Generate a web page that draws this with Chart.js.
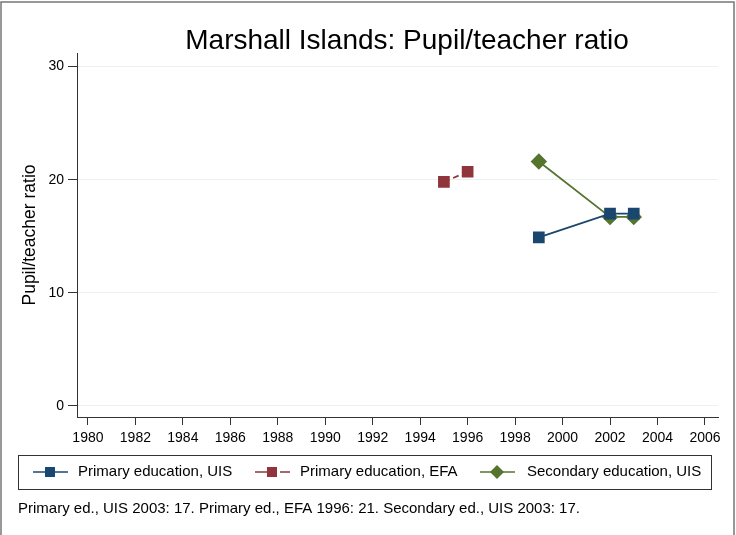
<!DOCTYPE html>
<html>
<head>
<meta charset="utf-8">
<script src="https://cdn.jsdelivr.net/npm/chart.js@4"></script>
<style>
  html, body { margin: 0; padding: 0; background: #fff; }
  #wrap { width: 736px; height: 535px; position: relative; }
</style>
</head>
<body>
<div id="wrap"><canvas id="grafico" width="736" height="535"></canvas></div>
<script>
// Datos
const years = [1980, 1982, 1984, 1986, 1988, 1990, 1992, 1994, 1996, 1998, 2000, 2002, 2004, 2006];
const yTicks = [0, 10, 20, 30];

const primUisYears = [1999, 2002, 2003];
const primUisVals = [14.9, 17.0, 17.0];

const primEfaYears = [1995, 1996];
const primEfaVals = [19.8, 20.7];

const secUisYears = [1999, 2002, 2003];
const secUisVals = [21.6, 16.7, 16.7];

const titulo = 'Marshall Islands: Pupil/teacher ratio';
const labels = ['Primary education, UIS', 'Primary education, EFA', 'Secondary education, UIS'];
const colores = ['#1a476f', '#90353b', '#55752f'];
const nota = 'Primary ed., UIS 2003: 17. Primary ed., EFA 1996: 21. Secondary ed., UIS 2003: 17.';

const toPoints = (xs, ys) => xs.map((x, i) => ({ x: x, y: ys[i] }));
const FONT = 'Liberation Sans, Arial, sans-serif';

// Marco, título, leyenda y nota
const extras = {
    id: 'extras',
    afterDraw(chart) {
        const c = chart.ctx;
        c.save();
        c.strokeStyle = '#777';
        c.lineWidth = 1.5;
        c.beginPath();
        c.moveTo(1, 540); c.lineTo(1, 2); c.lineTo(734, 2); c.lineTo(734, 540);
        c.stroke();

        // título
        c.fillStyle = '#000';
        c.font = '28px ' + FONT;
        c.textAlign = 'center';
        c.textBaseline = 'alphabetic';
        c.fillText(titulo, 407, 49);
        c.textAlign = 'left';

        // caja de leyenda
        c.strokeStyle = '#333';
        c.lineWidth = 1;
        c.strokeRect(18.5, 455.5, 693, 34);

        const items = [
            { x0: 33, tx: 78, dash: [], style: 'rect' },
            { x0: 255, tx: 300, dash: [12, 5, 3, 5], style: 'rect' },
            { x0: 480, tx: 527, dash: [], style: 'rectRot' }
        ];
        c.font = '15px ' + FONT;
        c.textBaseline = 'middle';
        items.forEach((it, i) => {
            const y = 472;
            c.strokeStyle = colores[i];
            c.fillStyle = colores[i];
            c.lineWidth = 1.5;
            c.setLineDash(it.dash);
            c.beginPath();
            c.moveTo(it.x0, y); c.lineTo(it.x0 + 35, y);
            c.stroke();
            c.setLineDash([]);
            const mx = it.x0 + 17;
            if (it.style === 'rect') {
                c.fillRect(mx - 5, y - 5, 10, 10);
            } else {
                c.beginPath();
                c.moveTo(mx, y - 7); c.lineTo(mx + 7, y); c.lineTo(mx, y + 7); c.lineTo(mx - 7, y);
                c.closePath(); c.fill();
            }
            c.fillStyle = '#000';
            c.fillText(labels[i], it.tx, y);
        });

        c.font = '15px ' + FONT;
        c.fillStyle = '#000';
        c.fillText(nota, 18, 509);
        c.restore();
    }
};

const ctx = document.getElementById('grafico').getContext('2d');
new Chart(ctx, {
    type: 'line',
    data: {
        datasets: [{
            label: labels[0],
            data: toPoints(primUisYears, primUisVals),
            borderColor: colores[0],
            backgroundColor: colores[0],
            borderWidth: 1.8,
            pointStyle: 'rect',
            pointRadius: 7,
            pointHoverRadius: 7
        }, {
            label: labels[1],
            data: toPoints(primEfaYears, primEfaVals),
            borderColor: colores[1],
            backgroundColor: colores[1],
            borderWidth: 1.8,
            borderDash: [6, 4],
            pointStyle: 'rect',
            pointRadius: 7,
            pointHoverRadius: 7
        }, {
            label: labels[2],
            data: toPoints(secUisYears, secUisVals),
            borderColor: colores[2],
            backgroundColor: colores[2],
            borderWidth: 1.8,
            pointStyle: 'rectRot',
            pointRadius: 7,
            pointHoverRadius: 7
        }]
    },
    options: {
        responsive: false,
        animation: false,
        layout: { padding: { top: 53, right: 18, left: 0, bottom: 0 } },
        plugins: {
            legend: { display: false },
            tooltip: { enabled: false },
            title: { display: false }
        },
        scales: {
            x: {
                type: 'linear',
                min: 1979.54,
                max: 2006.55,
                afterBuildTicks: s => { s.ticks = years.map(v => ({ value: v })); },
                afterFit: s => { s.height = 118; },
                ticks: {
                    callback: v => String(v),
                    color: '#000',
                    font: { family: FONT, size: 14 },
                    padding: 5,
                    maxRotation: 0,
                    autoSkip: false
                },
                grid: { display: true, drawOnChartArea: false, drawTicks: true, tickLength: 8, tickColor: '#333' },
                border: { display: true, color: '#333', width: 1 }
            },
            y: {
                min: -0.99,
                max: 31.2,
                afterBuildTicks: s => { s.ticks = yTicks.map(v => ({ value: v })); },
                afterFit: s => { s.width = 77; },
                ticks: {
                    color: '#000',
                    font: { family: FONT, size: 14 },
                    padding: 4
                },
                grid: { color: '#eaf2f3', lineWidth: 1, drawTicks: true, tickLength: 9, tickColor: '#333' },
                border: { display: true, color: '#333', width: 1 },
                title: {
                    display: true,
                    text: 'Pupil/teacher ratio',
                    color: '#000',
                    font: { family: FONT, size: 17.5 },
                    padding: { top: 20, bottom: 0 }
                }
            }
        }
    },
    plugins: [extras]
});
</script>
</body>
</html>
